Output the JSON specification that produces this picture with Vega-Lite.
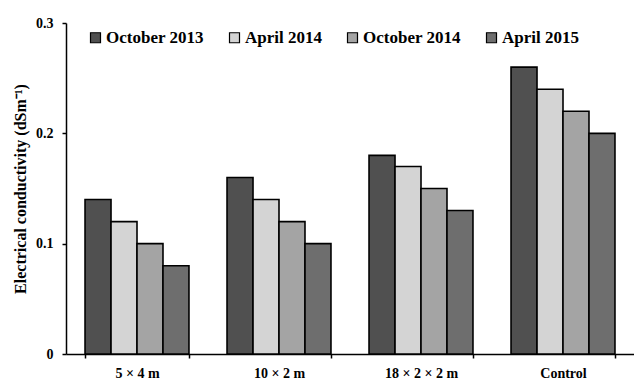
{
  "$schema": "https://vega.github.io/schema/vega-lite/v6.json",
  "width": 568,
  "height": 331,
  "autosize": "none",
  "padding": {"left": 66, "top": 23, "right": 0, "bottom": 27},
  "background": "white",
  "config": {
    "font": "Liberation Serif",
    "view": {"stroke": null}
  },
  "data": {
    "values": [
      {"site": "5 × 4 m", "date": "October 2013", "ec": 0.14},
      {"site": "5 × 4 m", "date": "April 2014", "ec": 0.12},
      {"site": "5 × 4 m", "date": "October 2014", "ec": 0.10},
      {"site": "5 × 4 m", "date": "April 2015", "ec": 0.08},
      {"site": "10 × 2 m", "date": "October 2013", "ec": 0.16},
      {"site": "10 × 2 m", "date": "April 2014", "ec": 0.14},
      {"site": "10 × 2 m", "date": "October 2014", "ec": 0.12},
      {"site": "10 × 2 m", "date": "April 2015", "ec": 0.10},
      {"site": "18 × 2 × 2 m", "date": "October 2013", "ec": 0.18},
      {"site": "18 × 2 × 2 m", "date": "April 2014", "ec": 0.17},
      {"site": "18 × 2 × 2 m", "date": "October 2014", "ec": 0.15},
      {"site": "18 × 2 × 2 m", "date": "April 2015", "ec": 0.13},
      {"site": "Control", "date": "October 2013", "ec": 0.26},
      {"site": "Control", "date": "April 2014", "ec": 0.24},
      {"site": "Control", "date": "October 2014", "ec": 0.22},
      {"site": "Control", "date": "April 2015", "ec": 0.20}
    ]
  },
  "mark": {"type": "bar", "stroke": "black", "strokeWidth": 1.6, "strokeOpacity": 1},
  "encoding": {
    "x": {
      "field": "site", "type": "nominal",
      "sort": ["5 × 4 m", "10 × 2 m", "18 × 2 × 2 m", "Control"],
      "scale": {"paddingInner": 0.268, "paddingOuter": 0.134},
      "axis": {
        "title": null, "labelAngle": 0, "tickBand": "extent",
        "domainColor": "black", "domainWidth": 1.5, "tickColor": "black", "tickWidth": 1.5, "tickSize": 4,
        "labelFont": "Liberation Serif", "labelFontWeight": "bold", "labelFontSize": 14, "labelColor": "black",
        "labelPadding": 8
      }
    },
    "xOffset": {
      "field": "date", "type": "nominal",
      "sort": ["October 2013", "April 2014", "October 2014", "April 2015"],
      "scale": {"paddingInner": 0, "paddingOuter": 0}
    },
    "y": {
      "field": "ec", "type": "quantitative",
      "scale": {"domain": [0, 0.3], "nice": false},
      "axis": {
        "title": "Electrical conductivity (dSm⁻¹)",
        "values": [0, 0.1, 0.2, 0.3], "format": ".1~f", "grid": false,
        "domainColor": "black", "domainWidth": 1.5, "tickColor": "black", "tickWidth": 1.5, "tickSize": 4,
        "labelFont": "Liberation Serif", "labelFontWeight": "bold", "labelFontSize": 14, "labelColor": "black",
        "labelPadding": 9,
        "titleFont": "Liberation Serif", "titleFontWeight": "bold", "titleFontSize": 16, "titleColor": "black",
        "titlePadding": 7
      }
    },
    "color": {
      "field": "date", "type": "nominal",
      "sort": ["October 2013", "April 2014", "October 2014", "April 2015"],
      "scale": {
        "domain": ["October 2013", "April 2014", "October 2014", "April 2015"],
        "range": ["#505050", "#d4d4d4", "#a4a4a4", "#6e6e6e"]
      },
      "legend": {
        "title": null, "orient": "none", "direction": "horizontal",
        "legendX": 21, "legendY": 6,
        "symbolType": "square", "symbolSize": 100, "symbolStrokeColor": "black", "symbolStrokeWidth": 1.2,
        "symbolOpacity": 1,
        "labelFont": "Liberation Serif", "labelFontWeight": "bold", "labelFontSize": 17, "labelColor": "black",
        "labelOffset": 2, "columnPadding": 22, "labelLimit": 200
      }
    }
  }
}
